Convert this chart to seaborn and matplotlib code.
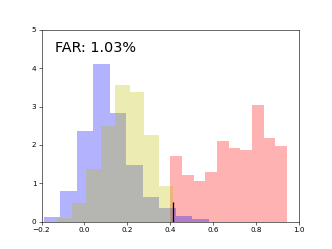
import numpy as np
import pandas as pd
import matplotlib
matplotlib.use("Agg")
import matplotlib.pyplot as plt
import seaborn as sns

# Histogram bar heights (density)
blue_heights = [0.11, 0.81, 2.35, 4.11, 2.83, 1.48, 0.65, 0.365, 0.157, 0.06]
blue_range = (-0.189, 0.579)

yellow_heights = [0.096, 0.49, 1.36, 2.50, 3.57, 3.39, 2.27, 0.94]
yellow_range = (-0.127, 0.414)

red_heights = [1.71, 1.22, 1.06, 1.30, 2.11, 1.92, 1.88, 3.05, 2.17, 1.97]
red_range = (0.400, 0.945)

threshold = 0.412
threshold_height = 0.5
far_label = "FAR: 1.03%"

x_ticks = [-0.2, 0.0, 0.2, 0.4, 0.6, 0.8, 1.0]
y_ticks = [0, 1, 2, 3, 4, 5]


def edges_of(rng, n):
    return np.linspace(rng[0], rng[1], n + 1)


fig, ax = plt.subplots(figsize=(6.4, 4.8), dpi=51.875)

for heights, rng, color in [
    (red_heights, red_range, "red"),
    (blue_heights, blue_range, "blue"),
    (yellow_heights, yellow_range, "y"),
]:
    edges = edges_of(rng, len(heights))
    centers = (edges[:-1] + edges[1:]) / 2
    df = pd.DataFrame({"score": centers, "h": heights})
    sns.histplot(data=df, x="score", weights="h", bins=list(edges),
                 stat="count", color=color, alpha=0.3, edgecolor="none",
                 linewidth=0, ax=ax)

ax.vlines(threshold, 0, threshold_height, color="k", linewidth=1.8)
ax.text(-0.138, 4.42, far_label, fontsize=20, va="baseline", ha="left")

ax.set_xlim(-0.2, 1.0)
ax.set_ylim(0, 5)
ax.set_xticks(x_ticks)
ax.set_yticks(y_ticks)
ax.set_ylabel("")
ax.set_xlabel("")

fig.savefig("out.png", dpi=51.875)
